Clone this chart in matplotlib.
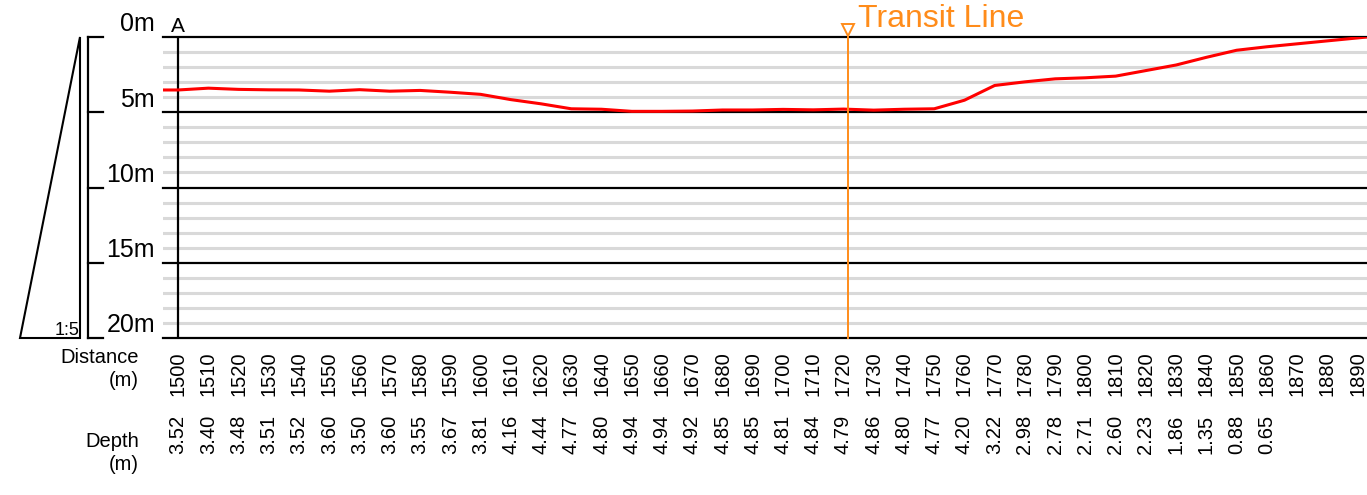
import matplotlib
matplotlib.use("Agg")
import matplotlib.pyplot as plt
from matplotlib.patches import Polygon
from matplotlib.transforms import blended_transform_factory

plt.rcParams['font.family'] = ['Liberation Sans', 'DejaVu Sans']

# Survey chainage (m) and measured water depth (m)
distance = list(range(1500, 1900, 10))
depth = [3.52, 3.40, 3.48, 3.51, 3.52, 3.60, 3.50, 3.60, 3.55, 3.67, 3.81,
         4.16, 4.44, 4.77, 4.80, 4.94, 4.94, 4.92, 4.85, 4.85, 4.81, 4.84,
         4.79, 4.86, 4.80, 4.77, 4.20, 3.22, 2.98, 2.78, 2.71, 2.60, 2.23,
         1.86, 1.35, 0.88, 0.65]
depth_labels = [f"{d:.2f}" for d in depth]
sounded = distance[:len(depth)]

# Section ends: seaward start and shoreline
section_start, section_end = 1495.0, 1893.1
shore_depth = 0.0

depth_ticks = [0, 5, 10, 15, 20]
depth_tick_labels = ["0m", "5m", "10m", "15m", "20m"]
transit_distance = 1721.5
scale_label = "1:5"

W, H = 1367, 495
fig = plt.figure(figsize=(W / 100, H / 100), dpi=100)

def fy(px):
    return 1 - px / H

top_px, bot_px = 37, 338
left_px = 163
ax = fig.add_axes([left_px / W, fy(bot_px), (W - left_px) / W, (bot_px - top_px) / H])
ax.set_xlim(section_start, section_end)
ax.set_ylim(20, 0)
ax.axis('off')

# Depth grid: light lines every metre, heavy lines every 5 m
for m in range(0, 21):
    if m % 5:
        ax.axhline(m, color='#d9d9d9', lw=2.2, zorder=1)
for m in depth_ticks:
    ax.axhline(m, color='black', lw=1.6, zorder=2, clip_on=False)

# Section start marker "A"
ax.plot([distance[0], distance[0]], [0, 20], color='black', lw=1.6, zorder=3)
ax.text(distance[0], -0.33, "A", ha='center', va='baseline', fontsize=15)

# Seabed profile
xs = [section_start] + sounded + [section_end]
ys = [depth[0]] + depth + [shore_depth]
ax.plot(xs, ys, color='#ff0000', lw=2.2, zorder=4, solid_joinstyle='round')

# Transit line
orange = '#ff8c1a'
ax.plot([transit_distance, transit_distance], [20, -0.35], color=orange,
        lw=1.4, zorder=5, clip_on=False)
ax.plot([transit_distance], [-0.47], marker='v', markersize=8,
        markerfacecolor='white', markeredgecolor=orange, markeredgewidth=1.4,
        zorder=6, clip_on=False)
ax.text(transit_distance + 3.3, -0.66, "Transit Line", color=orange,
        fontsize=23, ha='left', va='baseline')

# Tick labels below the section
tr = blended_transform_factory(ax.transData, fig.transFigure)
for d in distance:
    ax.text(d, fy(351), str(d), rotation=90, ha='center', va='top',
            fontsize=14.5, transform=tr)
for d, dl in zip(sounded, depth_labels):
    ax.text(d, fy(415), dl, rotation=90, ha='center', va='top',
            fontsize=14.5, transform=tr)
fig.text(139 / W, fy(348), "Distance\n(m)", ha='right', va='top',
         multialignment='right', fontsize=14.5, linespacing=1.25)
fig.text(139 / W, fy(432), "Depth\n(m)", ha='right', va='top',
         multialignment='right', fontsize=14.5, linespacing=1.25)

# Vertical scale bar with exaggeration wedge
axl = fig.add_axes([0, fy(bot_px), left_px / W, (bot_px - top_px) / H])
axl.set_xlim(0, left_px)
axl.set_ylim(20, 0)
axl.axis('off')
axl.add_patch(Polygon([(20, 20), (80, 20), (80, 0)], closed=True,
                      fill=False, edgecolor='black', lw=1.5, clip_on=False))
axl.plot([88, 88], [0, 20], color='black', lw=1.6, clip_on=False)
for t, lab in zip(depth_ticks, depth_tick_labels):
    axl.plot([88, 103], [t, t], color='black', lw=1.6, clip_on=False)
    axl.text(155, t - 0.37, lab, ha='right', va='baseline', fontsize=18)
axl.text(79, 19.8, scale_label, ha='right', va='baseline', fontsize=13)

fig.savefig("out.png", dpi=100)
